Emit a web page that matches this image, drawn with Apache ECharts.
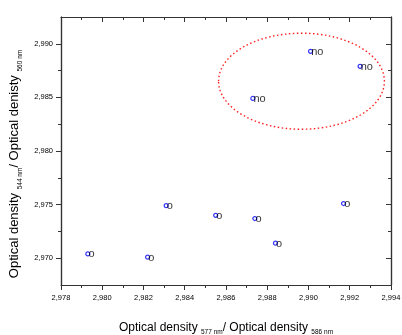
<!DOCTYPE html>
<html><head><meta charset="utf-8">
<script src="https://cdn.jsdelivr.net/npm/echarts@6/dist/echarts.min.js"></script>
<style>html,body{margin:0;padding:0;background:#fff}#c{width:402px;height:335px}</style>
</head><body><div id="c"></div>
<script>
const xValues = [2.9793, 2.9822, 2.9831, 2.9855, 2.9874, 2.9884, 2.9917, 2.9873, 2.9901, 2.9925];
const yValues = [2.9704, 2.9701, 2.9749, 2.9740, 2.9737, 2.9714, 2.9751, 2.9849, 2.9893, 2.9879];
const pointLabels = ['o', 'o', 'o', 'o', 'o', 'o', 'o', 'no', 'no', 'no'];
const yMajorTicks = [2.970, 2.975, 2.980, 2.985, 2.990];
const yMinorTicks = [2.9725, 2.9775, 2.9825, 2.9875];
const ellipseCenter = [2.98966, 2.98651];
const ellipseRadii = [0.00402, 0.00448];

const FONT = 'Liberation Sans, Arial, sans-serif';
const fmt = v => Number(v).toFixed(3).replace('.', ',');
const axisColor = '#333';

const chart = echarts.init(document.getElementById('c'), null, {renderer: 'canvas'});

const xBase = (pos) => ({
  type: 'value', min: 2.978, max: 2.994, interval: 0.002, position: pos,
  axisLine: {show: true, onZero: false, lineStyle: {color: axisColor, width: 1.2}},
  axisTick: {show: true, inside: pos === 'top', length: 5, lineStyle: {color: axisColor, width: 1}},
  minorTick: {show: true, splitNumber: 2, length: 3, lineStyle: {color: axisColor, width: 1}},
  splitLine: {show: false}, minorSplitLine: {show: false},
  axisLabel: {show: pos === 'bottom', formatter: fmt, fontSize: 7.5, fontFamily: FONT, color: '#000', margin: 9}
});

const yBase = (pos, ticks, len, labels) => ({
  type: 'value', min: 2.9675, max: 2.9925, position: pos,
  axisLine: {show: true, onZero: false, lineStyle: {color: axisColor, width: 1.2}},
  axisTick: {show: true, inside: pos === 'right', length: len, customValues: ticks, lineStyle: {color: axisColor, width: 1}},
  splitLine: {show: false},
  axisLabel: labels ? {show: true, customValues: ticks, formatter: fmt, fontSize: 7.5, fontFamily: FONT, color: '#000', margin: 8} : {show: false}
});

const xSub = {fontSize: 6.5, fontFamily: FONT, color: '#000', lineHeight: 14, verticalAlign: 'bottom'};
const xMain = {fontSize: 12, fontFamily: FONT, color: '#000', lineHeight: 12, verticalAlign: 'top'};
const ySub = {fontSize: 6.5, fontFamily: FONT, color: '#000', lineHeight: 15, verticalAlign: 'bottom'};
const yMain = {fontSize: 13, fontFamily: FONT, color: '#000', lineHeight: 13, verticalAlign: 'top'};

const xName = xBase('bottom');
xName.name = '{m|Optical density }{s|577 nm}{m|/ Optical density }{s|586 nm}';
xName.nameLocation = 'middle';
xName.nameGap = 37;
xName.nameTextStyle = {rich: {m: xMain, s: xSub}};

const yName = yBase('left', yMajorTicks, 5, true);
yName.name = '{m|Optical density }{s|544 nm}{m|/ Optical denisty }{s|560 nm}';
yName.nameLocation = 'middle';
yName.nameGap = 31;
yName.nameTextStyle = {rich: {m: yMain, s: ySub}, padding: [0, 26, 0, 0]};

chart.setOption({
  animation: false,
  backgroundColor: '#fff',
  grid: {left: 61, right: 11, top: 17, bottom: 50, containLabel: false, outerBoundsMode: 'none'},
  xAxis: [xName, xBase('top')],
  yAxis: [yName, yBase('left', yMinorTicks, 3, false), yBase('right', yMajorTicks, 5, false), yBase('right', yMinorTicks, 3, false)],
  series: [{
    type: 'scatter', xAxisIndex: 0, yAxisIndex: 0,
    data: xValues.map((x, i) => [x, yValues[i], pointLabels[i]]),
    symbol: 'circle', symbolSize: 4,
    itemStyle: {color: '#fff', borderColor: '#0000ff', borderWidth: 1.2},
    label: {show: true, position: 'right', distance: 0, offset: [-2, 0.5], formatter: p => p.data[2], fontSize: 11, fontFamily: FONT, color: '#000'}
  }]
});

const c = chart.convertToPixel({xAxisIndex: 0, yAxisIndex: 0}, ellipseCenter);
const e = chart.convertToPixel({xAxisIndex: 0, yAxisIndex: 0}, [ellipseCenter[0] + ellipseRadii[0], ellipseCenter[1] + ellipseRadii[1]]);
chart.setOption({
  graphic: [{
    type: 'ellipse', z: 100,
    shape: {cx: c[0], cy: c[1], rx: e[0] - c[0], ry: c[1] - e[1]},
    style: {fill: 'none', stroke: '#ff2020', lineWidth: 1.4, lineDash: [1.5, 2.5]}
  }]
});
</script>
</body></html>
